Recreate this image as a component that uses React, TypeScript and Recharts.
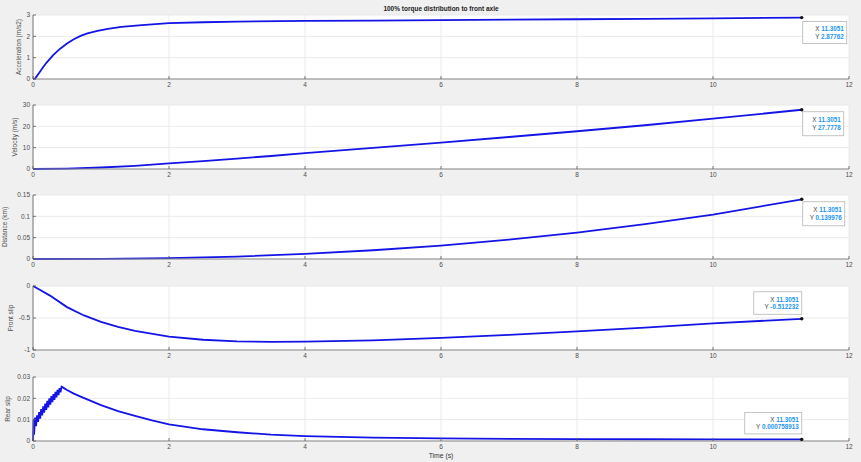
import React from 'react';
import { LineChart, Line, XAxis, YAxis, CartesianGrid, ReferenceDot } from 'recharts';

const FONT = '"Liberation Sans", Arial, sans-serif';
const LINE_BLUE = '#1414e6';

const timeTicks = [0, 2, 4, 6, 8, 10, 12];
const tipTime = 11.3051;

// acceleration (m/s2)
const accelTime = [0, 0.03, 0.1, 0.15, 0.2, 0.3, 0.4, 0.5, 0.6, 0.7, 0.8, 0.95, 1.1, 1.3, 1.6, 2, 2.5, 3, 4, 5, 6, 7, 8, 9, 10, tipTime];
const accelValues = [0, 0.02, 0.33, 0.56, 0.77, 1.13, 1.42, 1.66, 1.86, 2.02, 2.14, 2.26, 2.35, 2.44, 2.53, 2.62, 2.66, 2.69, 2.72, 2.74, 2.76, 2.78, 2.8, 2.82, 2.845, 2.87762];
const accelTicks = [0, 1, 2, 3];

// velocity (m/s)
const velTime = [0, 0.5, 1, 1.5, 2, 2.5, 3, 3.5, 4, 5, 6, 7, 8, 9, 10, tipTime];
const velValues = [0, 0.2, 0.7, 1.5, 2.6, 3.7, 4.9, 6.1, 7.4, 9.9, 12.4, 15, 17.7, 20.5, 23.6, 27.7778];
const velTicks = [0, 10, 20, 30];

// distance (km)
const distTime = [0, 1, 2, 3, 4, 5, 6, 7, 8, 9, 10, tipTime];
const distValues = [0, 0.0003, 0.0019, 0.0057, 0.0118, 0.0205, 0.0315, 0.0455, 0.062, 0.0815, 0.104, 0.139976];
const distTicks = [0, 0.05, 0.1, 0.15];

// front slip
const frontTime = [0, 0.1, 0.25, 0.5, 0.75, 1, 1.25, 1.5, 2, 2.5, 3, 3.5, 4, 5, 6, 7, 8, 9, 10, tipTime];
const frontValues = [0, -0.06, -0.15, -0.33, -0.46, -0.56, -0.64, -0.7, -0.79, -0.84, -0.865, -0.872, -0.87, -0.85, -0.81, -0.765, -0.71, -0.65, -0.585, -0.512232];
const frontTicks = [-1, -0.5, 0];

// rear slip (chatters while it builds up)
const rearTime = [0, 0.008, 0.016, 0.03, 0.045, 0.06, 0.075, 0.09, 0.105, 0.12, 0.135, 0.15, 0.165, 0.18, 0.195, 0.21, 0.225, 0.24, 0.255, 0.27, 0.285, 0.3, 0.315, 0.33, 0.345, 0.36, 0.375, 0.39, 0.405, 0.42, 0.45, 0.5, 0.6, 0.7, 0.85, 1, 1.25, 1.5, 1.75, 2, 2.5, 3, 3.5, 4, 5, 6, 7, 8, 9, 10, tipTime];
const rearValues = [0, 0.01, 0.003, 0.011, 0.007, 0.012, 0.009, 0.0135, 0.0105, 0.015, 0.012, 0.0163, 0.0133, 0.0175, 0.0146, 0.0188, 0.0158, 0.02, 0.017, 0.021, 0.0182, 0.022, 0.0193, 0.023, 0.0205, 0.024, 0.0215, 0.0248, 0.0228, 0.0255, 0.0249, 0.0239, 0.0222, 0.0208, 0.0188, 0.0168, 0.014, 0.0118, 0.0097, 0.0078, 0.0055, 0.0041, 0.003, 0.0023, 0.0016, 0.0012, 0.001, 0.0009, 0.00083, 0.0008, 0.000758913];
const rearTicks = [0, 0.01, 0.02, 0.03];

const PLOT_H = 64;
const M_TOP = 4;
const X_AXIS_H = 12;

const XTick = (props: any) => {
  const { x, y, payload } = props;
  return (
    <g>
      <line x1={x} x2={x} y1={y} y2={y - 3} stroke="#555" strokeWidth={0.8} />
      <text x={x} y={y + 8} textAnchor="middle" fontSize={6.5} fill="#4d4d4d" fontFamily={FONT}>
        {payload.value}
      </text>
    </g>
  );
};

const YTick = (props: any) => {
  const { x, y, payload } = props;
  return (
    <g>
      <line x1={x} x2={x + 3} y1={y} y2={y} stroke="#555" strokeWidth={0.8} />
      <text x={x - 3} y={y + 2.3} textAnchor="end" fontSize={6.5} fill="#4d4d4d" fontFamily={FONT}>
        {payload.value}
      </text>
    </g>
  );
};

type TipBox = { dx: number; dy: number; w: number; h: number };

const DataTip = ({ cx, cy, value, box }: { cx: number; cy: number; value: number; box: TipBox }) => {
  const left = cx + box.dx;
  const top = cy + box.dy;
  const right = left + box.w - 3;
  return (
    <g fontFamily={FONT} fontSize={6.3}>
      <rect x={left} y={top} width={box.w} height={box.h} fill="#fff" fillOpacity={0.92} stroke="#b5b5b5" strokeWidth={0.8} />
      <text x={right} y={top + box.h / 2 - 1.5} textAnchor="end">
        <tspan fill="#444">X </tspan>
        <tspan fill="#2196f0" fontWeight={700}>{String(tipTime)}</tspan>
      </text>
      <text x={right} y={top + box.h / 2 + 6} textAnchor="end">
        <tspan fill="#444">Y </tspan>
        <tspan fill="#2196f0" fontWeight={700}>{String(value)}</tspan>
      </text>
      <circle cx={cx} cy={cy} r={1.7} fill="#111" />
    </g>
  );
};

type PanelProps = {
  plotTop: number;
  times: number[];
  values: number[];
  domain: [number, number];
  ticks: number[];
  title: string;
  titleX: number;
  tip: TipBox;
};

const Panel = ({ plotTop, times, values, domain, ticks, title, titleX, tip }: PanelProps) => {
  const rows = times.map((t, i) => ({ t, v: values[i] }));
  const last = values[values.length - 1];
  const mid = M_TOP + PLOT_H / 2;
  return (
    <div style={{ position: 'absolute', left: 0, top: plotTop - M_TOP }}>
      <LineChart width={861} height={M_TOP + PLOT_H + X_AXIS_H} data={rows} margin={{ top: M_TOP, right: 12, bottom: 0, left: 0 }}>
        <CartesianGrid stroke="#e4e4e4" strokeWidth={0.8} fill="#ffffff" />
        <XAxis
          type="number"
          dataKey="t"
          domain={[0, 12]}
          ticks={timeTicks}
          interval={0}
          height={X_AXIS_H}
          axisLine={{ stroke: '#8a8a8a', strokeWidth: 1.2 }}
          tickLine={false}
          tickSize={0}
          tickMargin={0}
          tick={<XTick />}
        />
        <YAxis
          type="number"
          domain={domain}
          ticks={ticks}
          interval={0}
          width={33}
          axisLine={{ stroke: '#7a7a7a', strokeWidth: 1 }}
          tickLine={false}
          tickSize={0}
          tickMargin={0}
          tick={<YTick />}
          label={{
            content: () => (
              <text
                transform={`translate(${titleX},${mid}) rotate(-90)`}
                textAnchor="middle"
                fontSize={6.5}
                fill="#4d4d4d"
                fontFamily={FONT}
              >
                {title}
              </text>
            ),
          }}
        />
        <Line type="linear" dataKey="v" stroke={LINE_BLUE} strokeWidth={1.8} dot={false} isAnimationActive={false} />
        <ReferenceDot
          x={tipTime}
          y={last}
          r={1.7}
          shape={(p: any) => <DataTip cx={p.cx} cy={p.cy} value={last} box={tip} />}
        />
      </LineChart>
    </div>
  );
};

export default function App() {
  return (
    <div style={{ position: 'absolute', left: 0, top: 0, width: 861, height: 462, background: '#f0f0f0', fontFamily: FONT, overflow: 'hidden' }}>
      <div style={{ position: 'absolute', left: 33, width: 816, top: 5, textAlign: 'center', fontSize: 6.5, fontWeight: 700, color: '#222' }}>
        100% torque distribution to front axle
      </div>
      <Panel plotTop={15} times={accelTime} values={accelValues} domain={[0, 3]} ticks={accelTicks} title="Acceleration (m/s2)" titleX={21} tip={{ dx: 1, dy: 4, w: 44, h: 22 }} />
      <Panel plotTop={105} times={velTime} values={velValues} domain={[0, 30]} ticks={velTicks} title="Velocity (m/s)" titleX={17} tip={{ dx: 1, dy: 2, w: 41, h: 24 }} />
      <Panel plotTop={195} times={distTime} values={distValues} domain={[0, 0.15]} ticks={distTicks} title="Distance (km)" titleX={7} tip={{ dx: 1, dy: 2.5, w: 42, h: 24 }} />
      <Panel plotTop={286} times={frontTime} values={frontValues} domain={[-1, 0]} ticks={frontTicks} title="Front slip" titleX={13} tip={{ dx: -48, dy: -27, w: 48, h: 22.5 }} />
      <Panel plotTop={377} times={rearTime} values={rearValues} domain={[0, 0.03]} ticks={rearTicks} title="Rear slip" titleX={10} tip={{ dx: -57, dy: -27, w: 57, h: 21.5 }} />
      <div style={{ position: 'absolute', left: 33, width: 816, top: 452, textAlign: 'center', fontSize: 6.8, color: '#333' }}>
        Time (s)
      </div>
    </div>
  );
}
